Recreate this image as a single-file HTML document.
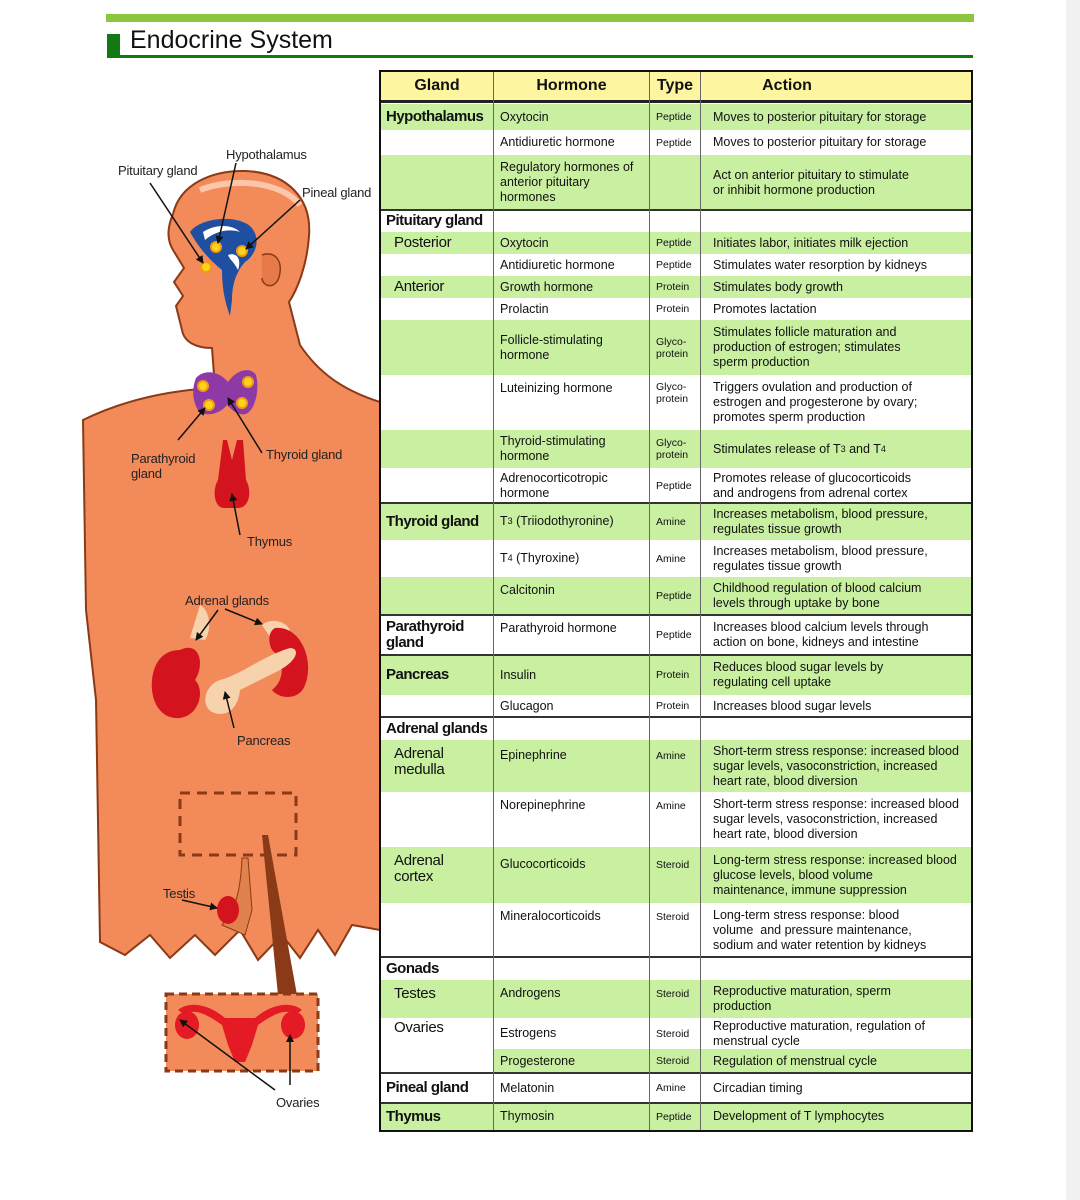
<!DOCTYPE html>
<html><head><meta charset="utf-8"><style>
body{margin:0;width:1080px;height:1200px;background:#fff;position:relative;overflow:hidden;font-family:"Liberation Sans",Arial,sans-serif;color:#111}
.strip{position:absolute;left:1066px;top:0;width:14px;height:1200px;background:#f1f1f1}
.tb{position:absolute;left:379px;top:70px;width:594px;height:1062px;border:2px solid #111;box-sizing:border-box}
.r{position:absolute;left:381px;width:590px}
.g{background:#c9f0a0}
.c{position:absolute;top:0;bottom:0;display:flex;align-items:center;font-size:12.5px;line-height:15px}
.c1{left:5px;width:108px;font-size:15px;line-height:16px;letter-spacing:-0.5px;white-space:nowrap}
.c1.b{font-weight:bold}
.c1.s{left:13px;letter-spacing:-0.3px}
.c2{left:119px;width:150px}
.c3{left:275px;width:48px;font-size:10.5px;line-height:12px}
.c4{left:332px;width:260px}
.t{align-items:flex-start;padding-top:6px}
.v{position:absolute;top:72px;width:1px;height:1058px;background:#666}
.h{position:absolute;left:381px;width:590px;height:2px;background:#333}
.hd{position:absolute;top:72px;height:27px;font-weight:bold;font-size:16px;display:flex;align-items:center;justify-content:center}
sub{font-size:9px}
.lb{position:absolute;font-size:13px;color:#222;line-height:15px;letter-spacing:-0.2px}
</style></head><body>
<div class="strip"></div>
<div style="position:absolute;left:106px;top:14px;width:868px;height:8px;background:#8cc63f"></div>
<div style="position:absolute;left:107px;top:34px;width:13px;height:24px;background:#137a13"></div>
<div style="position:absolute;left:107px;top:55px;width:866px;height:3px;background:#137a13"></div>
<div style="position:absolute;left:130px;top:26px;font-size:25px;color:#111">Endocrine System</div>

<svg style="position:absolute;left:0;top:0" width="380" height="1200">
<defs><marker id="a" markerWidth="8" markerHeight="8" refX="7" refY="4" orient="auto" markerUnits="userSpaceOnUse"><path d="M0,0 L8,4 L0,8 Z" fill="#111"/></marker></defs>
<path d="M215,388 L212,348 C196,348 184,342 182,330 L176,306 L183,296 L174,282 L184,268 L173,250 C166,238 168,226 173,214 C180,184 212,170 246,171 C287,173 312,198 309,236 C307,266 297,290 289,302 L300,345 C318,372 342,390 380,402 L380,930 L352,925 L335,955 L318,930 L300,958 L282,935 L258,960 L240,930 L215,955 L195,935 L170,958 L150,935 L125,955 L100,942 L96,700 L86,610 L83,420 C128,398 175,390 215,388 Z" fill="#f28a5a" stroke="#8a3a17" stroke-width="2"/>
<path d="M200,190 C230,178 280,180 300,205" stroke="#ffe0cc" stroke-width="6" fill="none" opacity=".7"/>
<path d="M262,255 C275,250 285,262 278,280 C272,290 262,285 262,278" fill="#e67a4a" stroke="#8a3a17" stroke-width="1.5"/>
<path d="M190,232 C200,218 235,214 250,226 C262,238 256,255 245,262 C236,272 232,285 232,300 L230,316 C224,300 222,285 222,270 C212,262 200,250 190,232 Z" fill="#1f4fa0"/>
<path d="M203,232 C215,224 232,224 240,232 C228,228 214,232 205,240 Z M228,255 C236,252 242,258 238,270 C234,262 230,260 228,255 Z" fill="#fff"/>
<g fill="#ffd21c" stroke="#f39c12" stroke-width="2"><circle cx="206" cy="267" r="5"/><circle cx="216" cy="247" r="5"/><circle cx="242" cy="251" r="5"/></g>
<path d="M196,378 C205,368 220,372 228,382 C236,370 250,366 256,375 C260,390 255,410 246,414 C238,416 232,410 227,405 C220,414 205,418 198,410 C192,400 192,388 196,378 Z" fill="#8e3aa6"/>
<g fill="#ffd21c" stroke="#f39c12" stroke-width="2"><circle cx="203" cy="386" r="5"/><circle cx="248" cy="382" r="5"/><circle cx="209" cy="405" r="5"/><circle cx="242" cy="403" r="5"/></g>
<path d="M223,440 L227,440 L232,460 L237,440 L243,440 L246,480 C252,490 250,508 238,508 L224,508 C214,508 212,490 218,480 Z" fill="#d3131e"/>
<path d="M200,605 C210,610 212,630 205,640 L190,638 Z" fill="#f6d3ad"/>
<path d="M262,625 C270,618 285,620 290,630 L272,640 Z" fill="#f6d3ad"/>
<path d="M180,650 C200,640 205,665 195,680 C205,690 200,715 180,718 C160,720 150,700 152,680 C154,660 165,650 180,650 Z" fill="#d3131e"/>
<path d="M275,628 C300,625 315,660 305,685 C300,700 280,700 272,690 C285,680 285,660 272,650 C268,642 268,632 275,628 Z" fill="#d3131e"/>
<path d="M290,648 C300,648 298,660 280,670 L240,690 C238,710 225,718 212,712 C200,705 205,685 220,680 C240,675 265,655 290,648 Z" fill="#f6d3ad"/>
<rect x="180" y="793" width="116" height="62" fill="none" stroke="#8a3a17" stroke-width="3" stroke-dasharray="10,7"/>
<path d="M262,835 L268,835 L297,995 L278,995 Z" fill="#8a3a17"/>
<path d="M242,858 L248,858 L252,910 L245,935 L222,925 C230,915 240,905 242,858 Z" fill="#e0814e" stroke="#8a3a17" stroke-width="1"/>
<ellipse cx="228" cy="910" rx="11" ry="14" fill="#d3131e"/>
<rect x="166" y="994" width="152" height="77" fill="#f28a5a" stroke="#8a3a17" stroke-width="3" stroke-dasharray="8,5"/>
<path d="M178,1010 C190,1000 210,1005 225,1018 L255,1018 C270,1005 290,1000 302,1010 L296,1014 C285,1008 272,1015 258,1025 L252,1045 L245,1062 L235,1062 L228,1045 L222,1025 C208,1015 195,1008 184,1014 Z" fill="#e41a24"/>
<ellipse cx="187" cy="1025" rx="12" ry="14" fill="#e41a24"/>
<ellipse cx="293" cy="1025" rx="12" ry="14" fill="#e41a24"/>
<g stroke="#111" stroke-width="1.5" marker-end="url(#a)">
<line x1="150" y1="183" x2="203" y2="263"/><line x1="236" y1="163" x2="218" y2="243"/><line x1="300" y1="200" x2="246" y2="249"/>
<line x1="178" y1="440" x2="205" y2="408"/><line x1="262" y1="453" x2="228" y2="398"/><line x1="240" y1="535" x2="232" y2="494"/>
<line x1="218" y1="610" x2="196" y2="640"/><line x1="225" y1="609" x2="262" y2="624"/><line x1="234" y1="728" x2="225" y2="692"/>
<line x1="182" y1="900" x2="217" y2="908"/><line x1="275" y1="1090" x2="180" y2="1020"/><line x1="290" y1="1085" x2="290" y2="1035"/>
</g></svg>
<div class="lb" style="left:226px;top:147px">Hypothalamus</div>
<div class="lb" style="left:118px;top:163px">Pituitary gland</div>
<div class="lb" style="left:302px;top:185px">Pineal gland</div>
<div class="lb" style="left:131px;top:451px">Parathyroid<br>gland</div>
<div class="lb" style="left:266px;top:447px">Thyroid gland</div>
<div class="lb" style="left:247px;top:534px">Thymus</div>
<div class="lb" style="left:185px;top:593px">Adrenal glands</div>
<div class="lb" style="left:237px;top:733px">Pancreas</div>
<div class="lb" style="left:163px;top:886px">Testis</div>
<div class="lb" style="left:276px;top:1095px">Ovaries</div>

<div style="position:absolute;left:381px;top:72px;width:590px;height:28px;background:#fdf5a0"></div>
<div class="h" style="top:100px;height:3px;background:#222"></div>

<div class="r g" style="top:104px;height:26px"><div class="c c1 b">Hypothalamus</div><div class="c c2">Oxytocin</div><div class="c c3">Peptide</div><div class="c c4">Moves to posterior pituitary for storage</div></div>
<div class="r" style="top:130px;height:25px"><div class="c c2">Antidiuretic hormone</div><div class="c c3">Peptide</div><div class="c c4">Moves to posterior pituitary for storage</div></div>
<div class="r g" style="top:155px;height:55px"><div class="c c2">Regulatory hormones of<br>anterior pituitary<br>hormones</div><div class="c c4">Act on anterior pituitary to stimulate<br>or inhibit hormone production</div></div>
<div class="r" style="top:210px;height:22px"><div class="c c1 b">Pituitary gland</div></div>
<div class="r g" style="top:232px;height:22px"><div class="c c1 s">Posterior</div><div class="c c2">Oxytocin</div><div class="c c3">Peptide</div><div class="c c4">Initiates labor, initiates milk ejection</div></div>
<div class="r" style="top:254px;height:22px"><div class="c c2">Antidiuretic hormone</div><div class="c c3">Peptide</div><div class="c c4">Stimulates water resorption by kidneys</div></div>
<div class="r g" style="top:276px;height:22px"><div class="c c1 s">Anterior</div><div class="c c2">Growth hormone</div><div class="c c3">Protein</div><div class="c c4">Stimulates body growth</div></div>
<div class="r" style="top:298px;height:22px"><div class="c c2">Prolactin</div><div class="c c3">Protein</div><div class="c c4">Promotes lactation</div></div>
<div class="r g" style="top:320px;height:55px"><div class="c c2">Follicle-stimulating<br>hormone</div><div class="c c3">Glyco-<br>protein</div><div class="c c4">Stimulates follicle maturation and<br>production of estrogen; stimulates<br>sperm production</div></div>
<div class="r" style="top:375px;height:55px"><div class="c c2 t">Luteinizing hormone</div><div class="c c3 t">Glyco-<br>protein</div><div class="c c4">Triggers ovulation and production of<br>estrogen and progesterone by ovary;<br>promotes sperm production</div></div>
<div class="r g" style="top:430px;height:38px"><div class="c c2">Thyroid-stimulating<br>hormone</div><div class="c c3">Glyco-<br>protein</div><div class="c c4">Stimulates release of T<sub>3</sub>&nbsp;and T<sub>4</sub></div></div>
<div class="r" style="top:468px;height:35px"><div class="c c2">Adrenocorticotropic<br>hormone</div><div class="c c3">Peptide</div><div class="c c4">Promotes release of glucocorticoids<br>and androgens from adrenal cortex</div></div>
<div class="r g" style="top:503px;height:37px"><div class="c c1 b">Thyroid gland</div><div class="c c2">T<sub>3</sub>&nbsp;(Triiodothyronine)</div><div class="c c3">Amine</div><div class="c c4">Increases metabolism, blood pressure,<br>regulates tissue growth</div></div>
<div class="r" style="top:540px;height:37px"><div class="c c2">T<sub>4</sub>&nbsp;(Thyroxine)</div><div class="c c3">Amine</div><div class="c c4">Increases metabolism, blood pressure,<br>regulates tissue growth</div></div>
<div class="r g" style="top:577px;height:38px"><div class="c c2 t">Calcitonin</div><div class="c c3">Peptide</div><div class="c c4">Childhood regulation of blood calcium<br>levels through uptake by bone</div></div>
<div class="r" style="top:615px;height:40px"><div class="c c1 b t" style="padding-top:4px">Parathyroid<br>gland</div><div class="c c2 t">Parathyroid hormone</div><div class="c c3">Peptide</div><div class="c c4">Increases blood calcium levels through<br>action on bone, kidneys and intestine</div></div>
<div class="r g" style="top:655px;height:40px"><div class="c c1 b">Pancreas</div><div class="c c2">Insulin</div><div class="c c3">Protein</div><div class="c c4">Reduces blood sugar levels by<br>regulating cell uptake</div></div>
<div class="r" style="top:695px;height:22px"><div class="c c2">Glucagon</div><div class="c c3">Protein</div><div class="c c4">Increases blood sugar levels</div></div>
<div class="r" style="top:717px;height:23px"><div class="c c1 b">Adrenal glands</div></div>
<div class="r g" style="top:740px;height:52px"><div class="c c1 s t">Adrenal<br>medulla</div><div class="c c2 t" style="padding-top:8px">Epinephrine</div><div class="c c3 t" style="padding-top:10px">Amine</div><div class="c c4">Short-term stress response: increased blood<br>sugar levels, vasoconstriction, increased<br>heart rate, blood diversion</div></div>
<div class="r" style="top:792px;height:55px"><div class="c c2 t">Norepinephrine</div><div class="c c3 t" style="padding-top:8px">Amine</div><div class="c c4 t" style="padding-top:5px">Short-term stress response: increased blood<br>sugar levels, vasoconstriction, increased<br>heart rate, blood diversion</div></div>
<div class="r g" style="top:847px;height:56px"><div class="c c1 s t">Adrenal<br>cortex</div><div class="c c2 t" style="padding-top:10px">Glucocorticoids</div><div class="c c3 t" style="padding-top:12px">Steroid</div><div class="c c4">Long-term stress response: increased blood<br>glucose levels, blood volume<br>maintenance, immune suppression</div></div>
<div class="r" style="top:903px;height:54px"><div class="c c2 t">Mineralocorticoids</div><div class="c c3 t" style="padding-top:8px">Steroid</div><div class="c c4">Long-term stress response: blood<br>volume&nbsp; and pressure maintenance,<br>sodium and water retention by kidneys</div></div>
<div class="r" style="top:957px;height:23px"><div class="c c1 b">Gonads</div></div>
<div class="r g" style="top:980px;height:38px"><div class="c c1 s t">Testes</div><div class="c c2 t">Androgens</div><div class="c c3 t" style="padding-top:8px">Steroid</div><div class="c c4">Reproductive maturation, sperm<br>production</div></div>
<div class="r" style="top:1018px;height:31px"><div class="c c1 s t" style="padding-top:2px">Ovaries</div><div class="c c2">Estrogens</div><div class="c c3">Steroid</div><div class="c c4">Reproductive maturation, regulation of<br>menstrual cycle</div></div>
<div class="r" style="top:1049px;height:24px"><div class="g" style="position:absolute;left:112px;right:0;top:0;bottom:0"></div><div class="c c2">Progesterone</div><div class="c c3">Steroid</div><div class="c c4">Regulation of menstrual cycle</div></div>
<div class="r" style="top:1073px;height:30px"><div class="c c1 b">Pineal gland</div><div class="c c2">Melatonin</div><div class="c c3">Amine</div><div class="c c4">Circadian timing</div></div>
<div class="r g" style="top:1103px;height:27px"><div class="c c1 b">Thymus</div><div class="c c2">Thymosin</div><div class="c c3">Peptide</div><div class="c c4">Development of T lymphocytes</div></div>

<div class="h" style="top:209px"></div><div class="h" style="top:502px"></div><div class="h" style="top:614px"></div><div class="h" style="top:654px"></div><div class="h" style="top:716px"></div><div class="h" style="top:956px"></div><div class="h" style="top:1072px"></div><div class="h" style="top:1102px"></div>
<div class="v" style="left:493px"></div><div class="v" style="left:649px"></div><div class="v" style="left:700px"></div>
<div class="hd" style="left:381px;width:112px">Gland</div>
<div class="hd" style="left:494px;width:155px">Hormone</div>
<div class="hd" style="left:650px;width:50px">Type</div>
<div class="hd" style="left:701px;width:172px">Action</div>
<div class="tb"></div>
</body></html>
